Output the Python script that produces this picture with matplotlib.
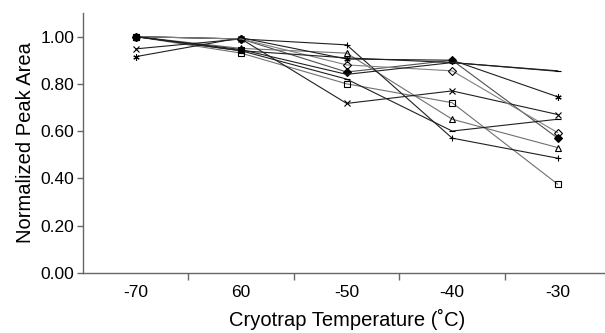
import matplotlib.pyplot as plt

plt.rcParams['font.family'] = ['Liberation Sans', 'DejaVu Sans']

# categories (the "60" is as printed in the original)
temps = ['-70', '60', '-50', '-40', '-30']

# normalized peak areas
open_square = [1.00, 0.93, 0.80, 0.72, 0.375]
filled_diamond = [1.00, 0.99, 0.85, 0.90, 0.57]
triangle = [1.00, 0.95, 0.93, 0.65, 0.53]
plus = [1.00, 0.99, 0.965, 0.57, 0.485]
asterisk = [0.915, 0.995, 0.905, 0.90, 0.745]
cross = [0.948, 0.99, 0.717, 0.77, 0.67]
open_diamond = [1.00, 0.99, 0.88, 0.855, 0.593]
dash_top = [1.00, 0.94, 0.91, 0.89, 0.853]
dash_low = [1.00, 0.94, 0.82, 0.60, 0.65]
filled_square = [1.00, 0.945, 0.84, 0.89, 0.855]

series = [
    (open_square, 's', 'none', '#707070'),
    (filled_diamond, 'D', 'black', '#505050'),
    (triangle, '^', 'none', '#707070'),
    (plus, '+', 'black', '#202020'),
    (asterisk, (6, 2, 0), 'black', '#202020'),
    (cross, 'x', 'black', '#202020'),
    (open_diamond, 'D', 'none', '#808080'),
    (dash_top, '_', 'black', '#202020'),
    (dash_low, '_', 'black', '#202020'),
    (filled_square, 's', 'black', '#202020'),
]

fig = plt.figure(figsize=(6.05, 3.33), dpi=100)
ax = fig.add_axes([0.137, 0.181, 0.872, 0.780])

x = list(range(len(temps)))
for vals, mk, fc, col in series:
    # the filled squares only show up at the two coldest points
    every = [0, 1] if vals is filled_square else None
    ax.plot(x, vals, color=col, lw=0.8, marker=mk, markersize=4.5, markevery=every,
            markerfacecolor=fc, markeredgecolor='black', markeredgewidth=0.8)

ax.set_xlim(-0.5, 4.5)
ax.set_ylim(0, 1.10)
ax.set_yticks([0, 0.2, 0.4, 0.6, 0.8, 1.0])
ax.set_yticklabels(['0.00', '0.20', '0.40', '0.60', '0.80', '1.00'])
ax.set_xticks(x)
ax.set_xticklabels(temps)
ax.set_xticks([0.5, 1.5, 2.5, 3.5], minor=True)
ax.tick_params(axis='x', which='major', length=0, pad=9, labelsize=12.5)
ax.tick_params(axis='x', which='minor', length=5, width=1, color='#666666', direction='out')
ax.tick_params(axis='y', length=4, width=1, color='#666666', labelsize=12.5, pad=2)

for s in ['top', 'right']:
    ax.spines[s].set_visible(False)
for s in ['left', 'bottom']:
    ax.spines[s].set_color('#666666')
    ax.spines[s].set_linewidth(1.0)

ax.set_xlabel('Cryotrap Temperature (˚C)', fontsize=14.5, labelpad=6)
ax.set_ylabel('Normalized Peak Area', fontsize=14.5, labelpad=4)

fig.savefig('out.png', dpi=100)
